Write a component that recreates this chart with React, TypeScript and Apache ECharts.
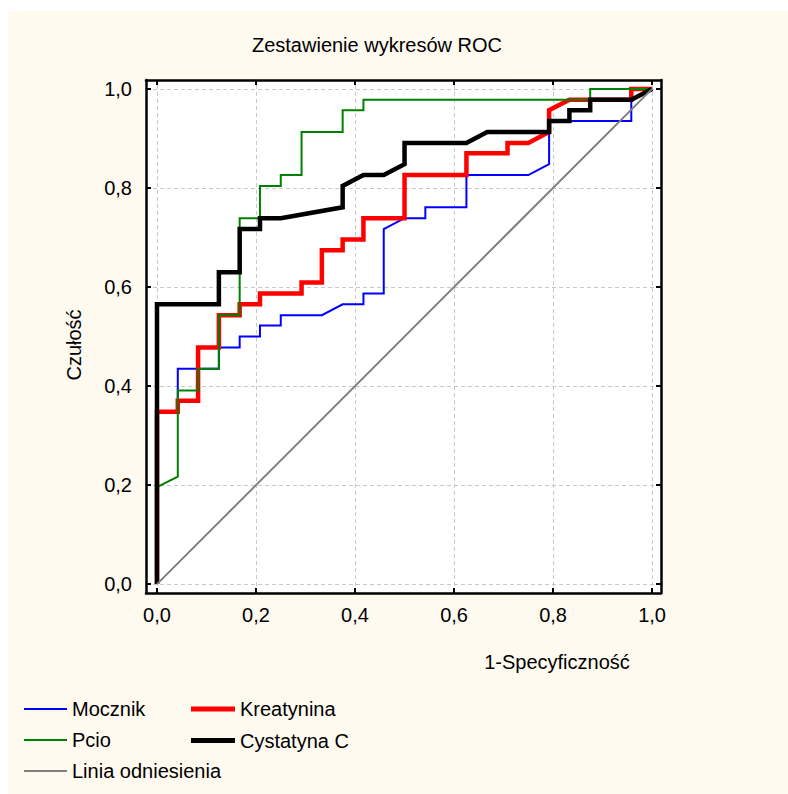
import React, { useEffect, useRef } from 'react';
import * as echarts from 'echarts';

const chartTitle = 'Zestawienie wykresów ROC';
const xAxisTitle = '1-Specyficzność';
const yAxisTitle = 'Czułość';
const tickValues = [0, 0.2, 0.4, 0.6, 0.8, 1.0];

const mocznik: number[][] = [
  [0, 0], [0, 0.348], [0.042, 0.348], [0.042, 0.435], [0.125, 0.435], [0.125, 0.478],
  [0.167, 0.478], [0.167, 0.5], [0.208, 0.5], [0.208, 0.522], [0.25, 0.522], [0.25, 0.543],
  [0.333, 0.543], [0.375, 0.565], [0.417, 0.565], [0.417, 0.587], [0.458, 0.587], [0.458, 0.717],
  [0.5, 0.739], [0.542, 0.739], [0.542, 0.761], [0.625, 0.761], [0.625, 0.826], [0.75, 0.826],
  [0.792, 0.848], [0.792, 0.935], [0.958, 0.935], [0.958, 1], [1, 1],
];

const kreatynina: number[][] = [
  [0, 0], [0, 0.348], [0.042, 0.348], [0.042, 0.37], [0.083, 0.37], [0.083, 0.478],
  [0.125, 0.478], [0.125, 0.543], [0.167, 0.543], [0.167, 0.565], [0.208, 0.565], [0.208, 0.587],
  [0.292, 0.587], [0.292, 0.609], [0.333, 0.609], [0.333, 0.674], [0.375, 0.674], [0.375, 0.696],
  [0.417, 0.696], [0.417, 0.739], [0.5, 0.739], [0.5, 0.826], [0.625, 0.826], [0.625, 0.87],
  [0.708, 0.87], [0.708, 0.891], [0.75, 0.891], [0.792, 0.913], [0.792, 0.957], [0.833, 0.978],
  [0.958, 0.978], [0.958, 1], [1, 1],
];

const pcio: number[][] = [
  [0, 0], [0, 0.196], [0.042, 0.217], [0.042, 0.391], [0.083, 0.391], [0.083, 0.435],
  [0.125, 0.435], [0.125, 0.543], [0.167, 0.543], [0.167, 0.739], [0.208, 0.739], [0.208, 0.804],
  [0.25, 0.804], [0.25, 0.826], [0.292, 0.826], [0.292, 0.913], [0.375, 0.913], [0.375, 0.957],
  [0.417, 0.957], [0.417, 0.978], [0.875, 0.978], [0.875, 1], [1, 1],
];

const cystatynaC: number[][] = [
  [0, 0], [0, 0.565], [0.125, 0.565], [0.125, 0.63], [0.167, 0.63], [0.167, 0.717],
  [0.208, 0.717], [0.208, 0.739], [0.25, 0.739], [0.375, 0.761], [0.375, 0.804], [0.417, 0.826],
  [0.458, 0.826], [0.5, 0.848], [0.5, 0.891], [0.625, 0.891], [0.667, 0.913], [0.792, 0.913],
  [0.792, 0.935], [0.833, 0.935], [0.833, 0.957], [0.875, 0.957], [0.875, 0.978], [0.958, 0.978],
  [1, 1],
];

const referenceLine: number[][] = [[0, 0], [1, 1]];

const FONT = '"Liberation Sans", Arial, sans-serif';

function fmt(v: number) {
  return v.toFixed(1).replace('.', ',');
}

export default function App() {
  const ref = useRef<HTMLDivElement>(null);
  useEffect(() => {
    if (!ref.current) return;
    const chart = echarts.init(ref.current, null, { renderer: 'svg' });
    const xRange = { min: -0.0222, max: 1.018 };
    const yRange = { min: -0.018, max: 1.018 };
    const axisCommon = {
      type: 'value' as const,
      z: 10,
      axisLine: { show: true, onZero: false, lineStyle: { color: '#000', width: 2.5 } },
      axisTick: { show: true, inside: true, length: 5, customValues: tickValues, lineStyle: { color: '#000', width: 2 } },
      splitLine: { show: false },
    };
    const line = (name: string, data: number[][], color: string, width: number) => ({
      name,
      type: 'line',
      data,
      symbol: 'none',
      showSymbol: false,
      clip: false,
      lineStyle: { color, width, join: 'miter', cap: 'butt' },
      itemStyle: { color },
      z: 3,
    });
    chart.setOption({
      animation: false,
      backgroundColor: '#FFFAF0',
      textStyle: { fontFamily: FONT },
      grid: { left: 138, top: 69, width: 515, height: 513, show: true, backgroundColor: '#ffffff', borderWidth: 0 },
      xAxis: [
        {
          ...axisCommon, position: 'bottom', ...xRange,
          axisLabel: { show: true, customValues: tickValues, formatter: fmt, fontSize: 20, color: '#000', fontFamily: FONT, margin: 12 },
        },
        { ...axisCommon, position: 'top', ...xRange, axisLabel: { show: false } },
      ],
      yAxis: [
        {
          ...axisCommon, position: 'left', ...yRange,
          axisLabel: { show: true, customValues: tickValues, formatter: fmt, fontSize: 20, color: '#000', fontFamily: FONT, margin: 14 },
        },
        { ...axisCommon, position: 'right', ...yRange, axisLabel: { show: false } },
      ],
      legend: [
        {
          data: ['Mocznik', 'Pcio', 'Linia odniesienia'],
          orient: 'vertical', left: 16, top: 688, padding: 0, itemGap: 11,
          itemWidth: 43, itemHeight: 2, icon: 'rect', selectedMode: false,
          textStyle: { fontSize: 20, color: '#000', fontFamily: FONT },
        },
        {
          data: ['Kreatynina', 'Cystatyna C'],
          orient: 'vertical', left: 183, top: 688, padding: 0, itemGap: 11.5,
          itemWidth: 44, itemHeight: 5, icon: 'rect', selectedMode: false,
          textStyle: { fontSize: 20, color: '#000', fontFamily: FONT },
        },
      ],
      graphic: [
        { type: 'text', x: 369, y: 34, style: { text: chartTitle, fontSize: 20, fontFamily: FONT, fill: '#000', align: 'center', verticalAlign: 'middle' } },
        { type: 'text', x: 549, y: 651, style: { text: xAxisTitle, fontSize: 20, fontFamily: FONT, fill: '#000', align: 'center', verticalAlign: 'middle' } },
        { type: 'text', x: 66, y: 334, rotation: Math.PI / 2, style: { text: yAxisTitle, fontSize: 20, fontFamily: FONT, fill: '#000', align: 'center', verticalAlign: 'middle' } },
      ],
      series: [
        {
          name: 'grid',
          type: 'line',
          data: [],
          z: 1,
          markLine: {
            silent: true,
            z: 1,
            symbol: 'none',
            label: { show: false },
            lineStyle: { color: '#c8c8c8', width: 1, type: [4, 3] },
            data: [
              ...tickValues.map((v) => ({ xAxis: v })),
              ...tickValues.map((v) => ({ yAxis: v })),
            ],
          },
        },
        line('Mocznik', mocznik, '#0000ff', 2),
        line('Kreatynina', kreatynina, '#ff0000', 4.5),
        line('Pcio', pcio, '#008000', 2),
        line('Cystatyna C', cystatynaC, '#000000', 4.5),
        line('Linia odniesienia', referenceLine, '#808080', 2),
      ],
    });
    return () => chart.dispose();
  }, []);
  return <div ref={ref} style={{ position: 'absolute', left: 8, top: 11, width: 780, height: 783 }} />;
}
